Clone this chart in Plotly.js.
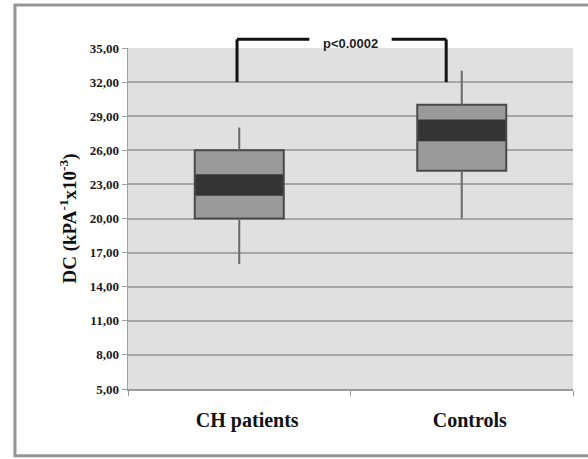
<!DOCTYPE html>
<html>
<head>
<meta charset="utf-8">
<script src="https://cdn.plot.ly/plotly-3.0.1.min.js"></script>
<style>html,body{margin:0;padding:0;background:#fff;}#chart{width:588px;height:459px;}</style>
</head>
<body>
<div id="chart"></div>
<script>
// Data
const categories = ['CH patients', 'Controls'];
const whiskerLow = [16, 20];
const q1 = [20, 24.2];
const bandLow = [22, 26.8];
const bandHigh = [23.9, 28.7];
const q3 = [26, 30];
const whiskerHigh = [28, 33];
const pText = 'p&lt;0.0002';
const yTitle = 'DC (kPA<sup>-1</sup>x10<sup>-3</sup>)';

const boxHeight = q3.map((v, i) => v - q1[i]);
const bandHeight = bandHigh.map((v, i) => v - bandLow[i]);

const whiskX = [], whiskY = [];
categories.forEach((c, i) => {
  whiskX.push(c, c, null, c, c, null);
  whiskY.push(whiskerHigh[i], q3[i], null, q1[i], whiskerLow[i], null);
});

const traces = [
  {type: 'bar', x: categories, y: boxHeight, base: q1, width: 0.4,
   marker: {color: '#9a9a9a', line: {width: 0}}, hoverinfo: 'skip', showlegend: false},
  {type: 'bar', x: categories, y: bandHeight, base: bandLow, width: 0.4,
   marker: {color: '#343434', line: {width: 0}}, hoverinfo: 'skip', showlegend: false},
  {type: 'bar', x: categories, y: boxHeight, base: q1, width: 0.4,
   marker: {color: 'rgba(0,0,0,0)', line: {width: 2, color: '#4a4a4a'}}, hoverinfo: 'skip', showlegend: false},
  {type: 'scatter', mode: 'lines', x: whiskX, y: whiskY, connectgaps: false,
   line: {color: '#6a6a6a', width: 2}, hoverinfo: 'skip', showlegend: false}
];

const yOf = v => (v - 5) / 30; // paper position of a y value
const brTop = 1.0255;
const bl = -0.01, br = 0.93;
const lineStyle = {color: '#111', width: 3};

const layout = {
  width: 588, height: 459,
  margin: {l: 128, r: 15, t: 48, b: 70},
  paper_bgcolor: '#ffffff',
  plot_bgcolor: '#e0e0e0',
  separators: ',.',
  barmode: 'overlay',
  showlegend: false,
  font: {family: '"Liberation Serif", "Times New Roman", serif', color: '#1a1a1a'},
  xaxis: {
    type: 'category', range: [-0.5, 1.5],
    showgrid: false, zeroline: false,
    showline: true, linecolor: '#9a9a9a', linewidth: 2,
    ticks: 'outside', tickson: 'boundaries', ticklen: 5, tickcolor: '#9a9a9a', tickwidth: 1,
    tickfont: {family: '"Liberation Serif", "Times New Roman", serif', size: 20, color: '#111', weight: 'bold'},
    ticklabelstandoff: 12, ticklabelshift: 8
  },
  yaxis: {
    range: [5, 35], tick0: 5, dtick: 3, tickformat: '.2f',
    showgrid: true, gridcolor: '#a6a6a6', gridwidth: 2,
    zeroline: false, showline: true, linecolor: '#a0a0a0', linewidth: 1.5,
    ticks: 'outside', ticklen: 5, tickcolor: '#a0a0a0', tickwidth: 1,
    tickfont: {family: '"Liberation Serif", "Times New Roman", serif', size: 13, color: '#1a1a1a', weight: 'bold'},
    ticklabelstandoff: 0,
    title: {text: yTitle, standoff: 8,
      font: {family: '"Liberation Serif", "Times New Roman", serif', size: 19, color: '#111', weight: 'bold'}}
  },
  shapes: [
    {type: 'rect', xref: 'paper', yref: 'paper', x0: -0.254, x1: 1.1, y0: -0.196, y1: 1.126,
     line: {color: '#959595', width: 3}, fillcolor: 'rgba(0,0,0,0)', layer: 'below'},
    {type: 'line', xref: 'x', yref: 'paper', x0: bl, x1: bl, y0: yOf(32), y1: brTop, line: lineStyle},
    {type: 'line', xref: 'x', yref: 'paper', x0: bl, x1: 0.315, y0: brTop, y1: brTop, line: lineStyle},
    {type: 'line', xref: 'x', yref: 'paper', x0: 0.685, x1: br, y0: brTop, y1: brTop, line: lineStyle},
    {type: 'line', xref: 'x', yref: 'paper', x0: br, x1: br, y0: yOf(32), y1: brTop, line: lineStyle}
  ],
  annotations: [
    {xref: 'x', yref: 'paper', x: 0.5, y: 1.014, text: pText, showarrow: false,
     xanchor: 'center', yanchor: 'middle',
     font: {family: '"Liberation Sans", Arial, sans-serif', size: 13, color: '#222', weight: 'bold'}}
  ]
};

Plotly.newPlot('chart', traces, layout, {staticPlot: true, displayModeBar: false});
</script>
</body>
</html>
